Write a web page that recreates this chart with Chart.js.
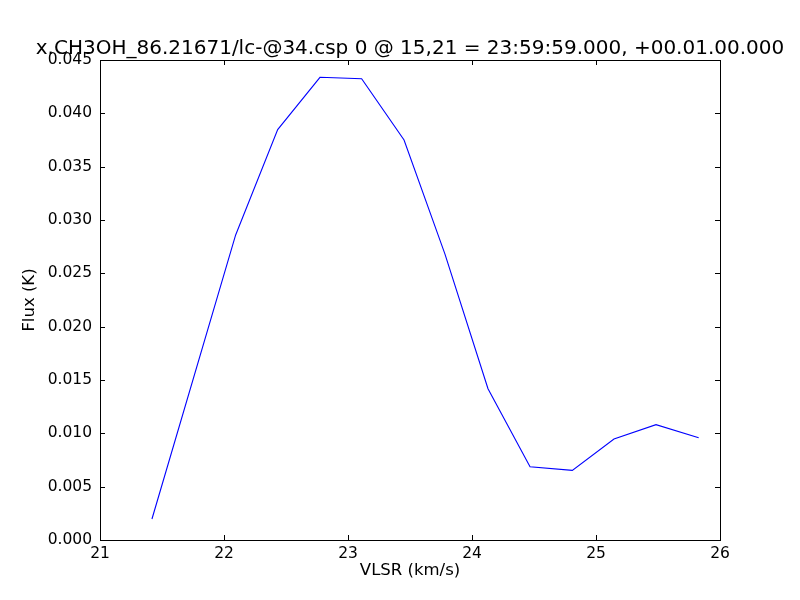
<!DOCTYPE html>
<html>
<head>
<meta charset="utf-8">
<script src="https://cdn.jsdelivr.net/npm/chart.js@4/dist/chart.umd.min.js"></script>
<style>
  html, body { margin: 0; padding: 0; background: #fff; }
  #wrap { width: 800px; height: 600px; }
</style>
</head>
<body>
<div id="wrap"><canvas id="myChart" width="800" height="600"></canvas></div>
<script>
// spectrum
const vlsr = [21.419, 22.094, 22.433, 22.774, 23.110, 23.452, 23.782, 24.129, 24.468, 24.809, 25.145, 25.484, 25.828];
const flux = [0.00197, 0.0286, 0.03847, 0.04338, 0.04325, 0.0375, 0.0268, 0.01418, 0.00687, 0.00653, 0.00947, 0.01081, 0.00959];

const xTicks = [21, 22, 23, 24, 25, 26];
const yTicks = [0, 0.005, 0.01, 0.015, 0.02, 0.025, 0.03, 0.035, 0.04, 0.045];

const titleText = 'x.CH3OH_86.21671/lc-@34.csp 0 @ 15,21 = 23:59:59.000, +00.01.00.000';
const font = 'DejaVu Sans';
const points = vlsr.map((v, i) => ({ x: v, y: flux[i] }));

// matplotlib-style frame with inward ticks on all four sides, title centred over the axes
const frame = {
    id: 'frame',
    afterDraw(chart) {
        const ctx = chart.ctx;
        const a = chart.chartArea;
        const xs = chart.scales.x, ys = chart.scales.y;
        const len = 5;
        ctx.save();
        ctx.strokeStyle = '#000';
        ctx.lineWidth = 1;
        ctx.beginPath();
        xTicks.forEach(t => {
            const px = Math.round(xs.getPixelForValue(t)) + 0.5;
            ctx.moveTo(px, a.bottom); ctx.lineTo(px, a.bottom - len);
            ctx.moveTo(px, a.top); ctx.lineTo(px, a.top + len);
        });
        yTicks.forEach(t => {
            const py = Math.round(ys.getPixelForValue(t)) + 0.5;
            ctx.moveTo(a.left, py); ctx.lineTo(a.left + len, py);
            ctx.moveTo(a.right, py); ctx.lineTo(a.right - len, py);
        });
        ctx.stroke();
        ctx.strokeRect(Math.round(a.left) + 0.5, Math.round(a.top) + 0.5,
            Math.round(a.right - a.left), Math.round(a.bottom - a.top));

        ctx.fillStyle = '#000';
        ctx.font = '20px "' + font + '"';
        ctx.textAlign = 'center';
        ctx.textBaseline = 'alphabetic';
        ctx.fillText(titleText, (a.left + a.right) / 2, a.top - 6);
        ctx.restore();
    }
};

const config = {
    type: 'scatter',
    data: {
        datasets: [{
            data: points,
            showLine: true,
            borderColor: '#0000ff',
            borderWidth: 1.1,
            pointRadius: 0,
            tension: 0,
        }]
    },
    options: {
        responsive: false,
        animation: false,
        layout: { padding: { left: 0, right: 80, top: 60, bottom: 0 } },
        plugins: {
            legend: { display: false },
            tooltip: { enabled: false },
            title: { display: false }
        },
        scales: {
            x: {
                type: 'linear',
                min: 21, max: 26,
                afterBuildTicks: s => { s.ticks = xTicks.map(v => ({ value: v })); },
                afterFit: s => { s.height = 60; },
                grid: { display: false, drawTicks: false },
                border: { display: false },
                ticks: {
                    color: '#000', padding: 5,
                    font: { family: font, size: 15.5 },
                    callback: v => String(v),
                },
                title: {
                    display: true, text: 'VLSR (km/s)', color: '#000',
                    font: { family: font, size: 16.5, lineHeight: 1.2 },
                    padding: { top: 0, bottom: 19 },
                },
            },
            y: {
                min: 0, max: 0.045,
                afterBuildTicks: s => { s.ticks = yTicks.map(v => ({ value: v })); },
                afterFit: s => { s.width = 100; },
                grid: { display: false, drawTicks: false },
                border: { display: false },
                ticks: {
                    color: '#000', padding: 8,
                    font: { family: font, size: 15.5 },
                    callback: v => v.toFixed(3),
                },
                title: {
                    display: true, text: 'Flux (K)', color: '#000',
                    font: { family: font, size: 16.5, lineHeight: 1.2 },
                    padding: { top: 20, bottom: 0 },
                },
            }
        }
    },
    plugins: [frame],
};

const myChart = new Chart(document.getElementById('myChart'), config);
</script>
</body>
</html>
